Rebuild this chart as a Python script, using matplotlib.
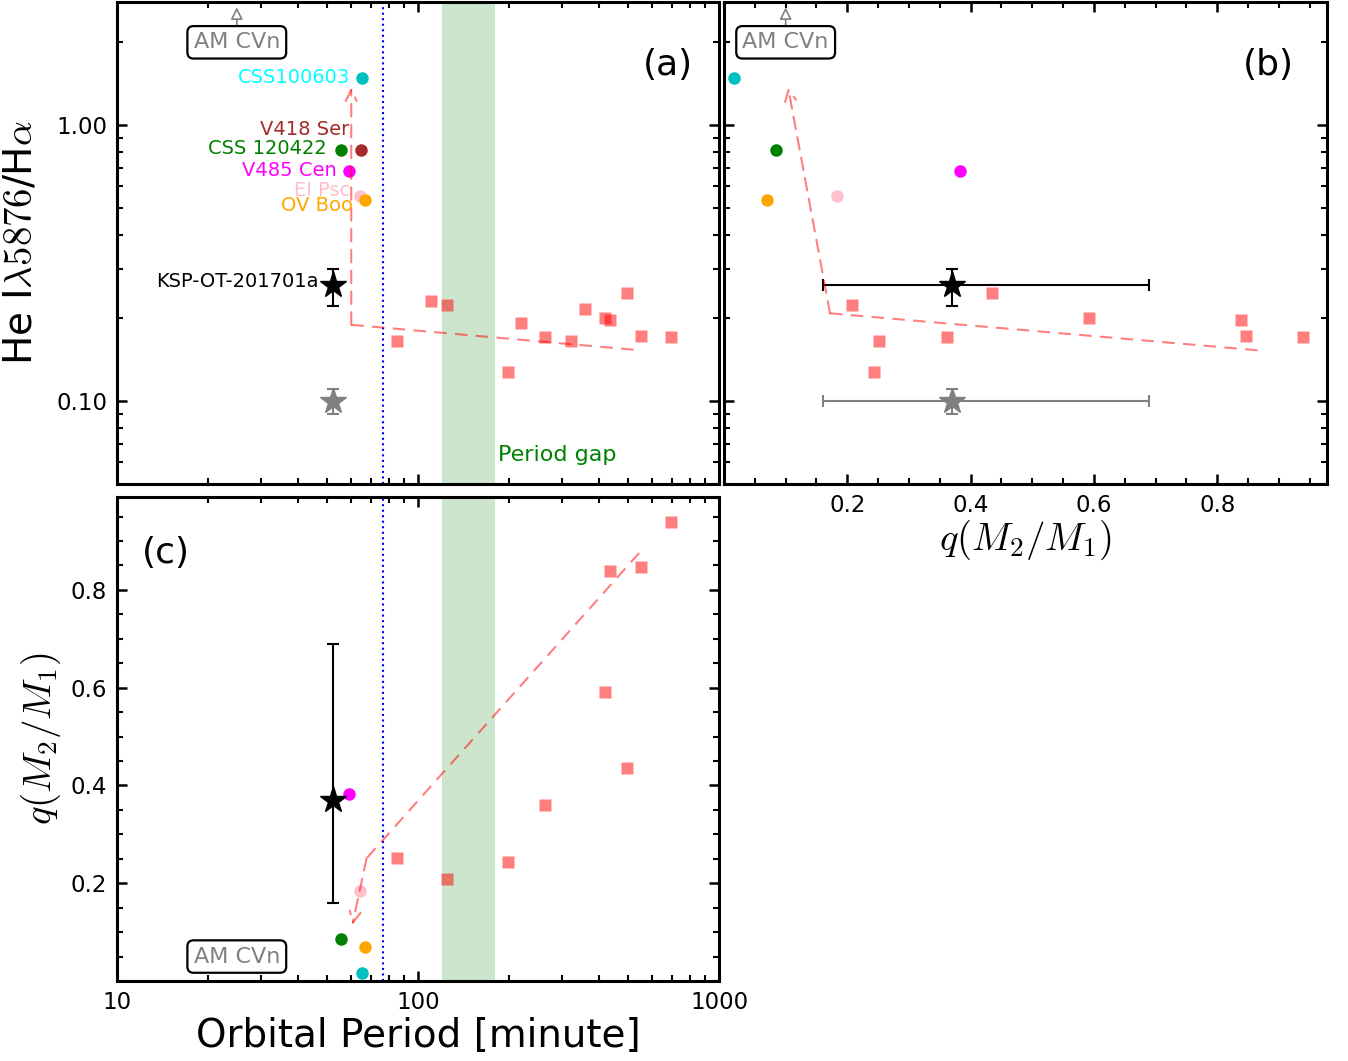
import numpy as np
import matplotlib
matplotlib.use("Agg")
import matplotlib.pyplot as plt
from matplotlib.ticker import FixedLocator, MultipleLocator, NullFormatter, FormatStrFormatter, FuncFormatter

plt.rcParams['mathtext.fontset'] = 'cm'
plt.rcParams['font.family'] = ['DejaVu Sans']

nan = np.nan

# CVs (red squares)
cv_period = [85.2, 110.5, 124.6, 198.6, 219.9, 263.6, 322.0, 358.6, 418.0, 434.5, 494.7, 550.5, 691.0]
cv_ratio = [0.165, 0.231, 0.223, 0.127, 0.192, 0.170, 0.165, 0.216, 0.200, 0.197, 0.247, 0.172, 0.171]
cv_q = [0.251, nan, 0.208, 0.243, nan, 0.361, nan, nan, 0.592, 0.838, 0.435, 0.846, 0.939]

# named short period systems
names = ['CSS100603', 'V418 Ser', 'CSS 120422', 'V485 Cen', 'EI Psc', 'OV Boo']
obj_period = [65.3, 64.7, 55.3, 59.2, 64.1, 66.8]
obj_ratio = [1.49, 0.817, 0.817, 0.681, 0.552, 0.534]
obj_q = [0.017, nan, 0.085, 0.383, 0.184, 0.069]
obj_colors = ['c', 'brown', 'g', 'magenta', 'pink', 'orange']
label_colors = ['cyan', 'brown', 'g', 'magenta', 'pink', 'orange']

# KSP-OT-201701a
ksp_period = 52.0
ksp_ratio = 0.263
ksp_ratio_err = [0.042, 0.038]
ksp_ratio2 = 0.100
ksp_ratio2_err = [0.010, 0.011]
ksp_q = 0.37
ksp_q_err = [0.21, 0.32]

# evolutionary tracks
track_a_period = [60.0, 537.0]
track_a_ratio = [0.189, 0.153]
track_a_tip = (60.0, 1.37)
track_b_q = [0.172, 0.877]
track_b_ratio = [0.208, 0.152]
track_b_tip = (0.104, 1.37)
track_c_period = [67.5, 543.0]
track_c_q = [0.251, 0.8755]
track_c_tip = (60.5, 0.115)

period_min = 76.3
period_gap = (120, 180)

track_col = (1, 0, 0, 0.5)
dash = (0, (6, 4))


def style_axes(ax):
    for s in ax.spines.values():
        s.set_linewidth(2.2)
    ax.tick_params(which='both', direction='in', top=True, right=True, labelsize=16.5, pad=7)
    ax.tick_params(which='major', length=7, width=1.8)
    ax.tick_params(which='minor', length=4, width=1.5)


def am_cvn_box(ax, x, y, tip=None):
    box = dict(boxstyle='round,pad=0.28', fc='white', ec='black', lw=1.6)
    if tip is None:
        ax.text(x, y, 'AM CVn', ha='center', va='center', fontsize=16, color='gray', bbox=box)
    else:
        ax.annotate('AM CVn', xy=(x, tip), xytext=(x, y), ha='center', va='center',
                    fontsize=16, color='gray', bbox=box,
                    arrowprops=dict(arrowstyle='-|>', fc='white', ec='gray', lw=1.2,
                                    shrinkA=0, shrinkB=0, mutation_scale=18))


def track_arrow(ax, start, tip):
    ax.annotate('', xy=tip, xytext=start,
                arrowprops=dict(arrowstyle='->', color=track_col, ls=dash, lw=1.5,
                                shrinkA=0, shrinkB=0, mutation_scale=20))


fig = plt.figure(figsize=(13.48, 10.61), dpi=100)
ax_a = fig.add_axes([0.0868, 0.5438, 0.4466, 0.4543])
ax_b = fig.add_axes([0.5371, 0.5438, 0.4473, 0.4543], sharey=ax_a)
ax_c = fig.add_axes([0.0868, 0.0754, 0.4466, 0.4562], sharex=ax_a)

# ---- (a) ratio vs period
ax = ax_a
ax.set_xscale('log')
ax.set_yscale('log')
ax.axvspan(*period_gap, color='g', alpha=0.2, lw=0)
ax.axvline(period_min, color='b', ls=':', lw=1.5)
ax.plot(track_a_period, track_a_ratio, color=track_col, ls=dash, lw=1.5)
track_arrow(ax, (track_a_period[0], track_a_ratio[0]), track_a_tip)
ax.plot(cv_period, cv_ratio, 's', color='r', alpha=0.5, ms=9, mec='none')
offsets = [(-12, 0), (-12, 20), (-14, 1), (-13, 1), (-10, 6), (-12, -5)]
for n, p, r, c, lc, off in zip(names, obj_period, obj_ratio, obj_colors, label_colors, offsets):
    ax.plot(p, r, 'o', color=c, ms=9, mec='none')
    ax.annotate(n, (p, r), xytext=off, textcoords='offset pixels', ha='right', va='center',
                fontsize=14, color=lc)
ax.errorbar(ksp_period, ksp_ratio2, yerr=[[ksp_ratio2_err[0]], [ksp_ratio2_err[1]]], fmt='*',
            color='gray', ms=19, capsize=4, elinewidth=1.5, capthick=1.5)
ax.errorbar(ksp_period, ksp_ratio, yerr=[[ksp_ratio_err[0]], [ksp_ratio_err[1]]], fmt='*',
            color='k', ms=20, capsize=4, elinewidth=1.5, capthick=1.5)
ax.annotate('KSP-OT-201701a', (ksp_period, ksp_ratio), xytext=(-14, 4), textcoords='offset pixels',
            ha='right', va='center', fontsize=14, color='k')
ax.text(185, 0.0635, 'Period gap', color='g', fontsize=16, va='center')
am_cvn_box(ax, 25, 2.0, tip=2.68)
ax.text(0.915, 0.869, '(a)', transform=ax.transAxes, fontsize=26, ha='center', va='center')
ax.set_xlim(10, 1000)
ax.set_ylim(0.05, 2.8)
ax.yaxis.set_major_locator(FixedLocator([0.1, 1.0]))
ax.yaxis.set_major_formatter(FormatStrFormatter('%.2f'))
ax.yaxis.set_minor_formatter(NullFormatter())
ax.set_ylabel(r'He I$\lambda5876$/H$\alpha$', fontsize=28)
ax.yaxis.set_label_coords(-0.128, 0.5)
style_axes(ax)
ax.tick_params(labelbottom=False)

# ---- (b) ratio vs q
ax = ax_b
ax.plot(track_b_q, track_b_ratio, color=track_col, ls=dash, lw=1.5)
track_arrow(ax, (track_b_q[0], track_b_ratio[0]), track_b_tip)
ax.plot(cv_q, cv_ratio, 's', color='r', alpha=0.5, ms=9, mec='none')
for q, r, c in zip(obj_q, obj_ratio, obj_colors):
    ax.plot(q, r, 'o', color=c, ms=9, mec='none')
ax.errorbar(ksp_q, ksp_ratio2, xerr=[[ksp_q_err[0]], [ksp_q_err[1]]],
            yerr=[[ksp_ratio2_err[0]], [ksp_ratio2_err[1]]], fmt='*',
            color='gray', ms=19, capsize=4, elinewidth=1.5, capthick=1.5)
ax.errorbar(ksp_q, ksp_ratio, xerr=[[ksp_q_err[0]], [ksp_q_err[1]]],
            yerr=[[ksp_ratio_err[0]], [ksp_ratio_err[1]]], fmt='*',
            color='k', ms=20, capsize=4, elinewidth=1.5, capthick=1.5)
am_cvn_box(ax, 0.1, 2.0, tip=2.68)
ax.text(0.902, 0.869, '(b)', transform=ax.transAxes, fontsize=26, ha='center', va='center')
ax.set_xlim(0, 0.978)
ax.xaxis.set_major_locator(FixedLocator([0.2, 0.4, 0.6, 0.8]))
ax.xaxis.set_minor_locator(MultipleLocator(0.05))
ax.set_xlabel(r'$q(M_2/M_1)$', fontsize=28)
ax.xaxis.set_label_coords(0.5, -0.07)
style_axes(ax)
ax.tick_params(labelleft=False)

# ---- (c) q vs period
ax = ax_c
ax.axvspan(*period_gap, color='g', alpha=0.2, lw=0)
ax.axvline(period_min, color='b', ls=':', lw=1.5)
ax.plot(track_c_period[::-1], track_c_q[::-1], color=track_col, ls=dash, lw=1.5)
track_arrow(ax, (track_c_period[0], track_c_q[0]), track_c_tip)
ax.plot(cv_period, cv_q, 's', color='r', alpha=0.5, ms=9, mec='none')
for p, q, c in zip(obj_period, obj_q, obj_colors):
    ax.plot(p, q, 'o', color=c, ms=9, mec='none')
ax.errorbar(ksp_period, ksp_q, yerr=[[ksp_q_err[0]], [ksp_q_err[1]]], fmt='*',
            color='k', ms=20, capsize=4, elinewidth=1.5, capthick=1.5)
am_cvn_box(ax, 25, 0.05)
ax.text(0.081, 0.884, '(c)', transform=ax.transAxes, fontsize=26, ha='center', va='center')
ax.set_xlim(10, 1000)
ax.set_ylim(0, 0.99)
ax.yaxis.set_major_locator(FixedLocator([0.2, 0.4, 0.6, 0.8]))
ax.yaxis.set_minor_locator(MultipleLocator(0.05))
ax.xaxis.set_major_formatter(FuncFormatter(lambda v, pos: '%d' % v))
ax.xaxis.set_minor_formatter(NullFormatter())
ax.set_xlabel('Orbital Period [minute]', fontsize=28)
ax.xaxis.set_label_coords(0.5, -0.075)
ax.set_ylabel(r'$q(M_2/M_1)$', fontsize=28)
ax.yaxis.set_label_coords(-0.09, 0.5)
style_axes(ax)

fig.savefig('out.png', dpi=100)
